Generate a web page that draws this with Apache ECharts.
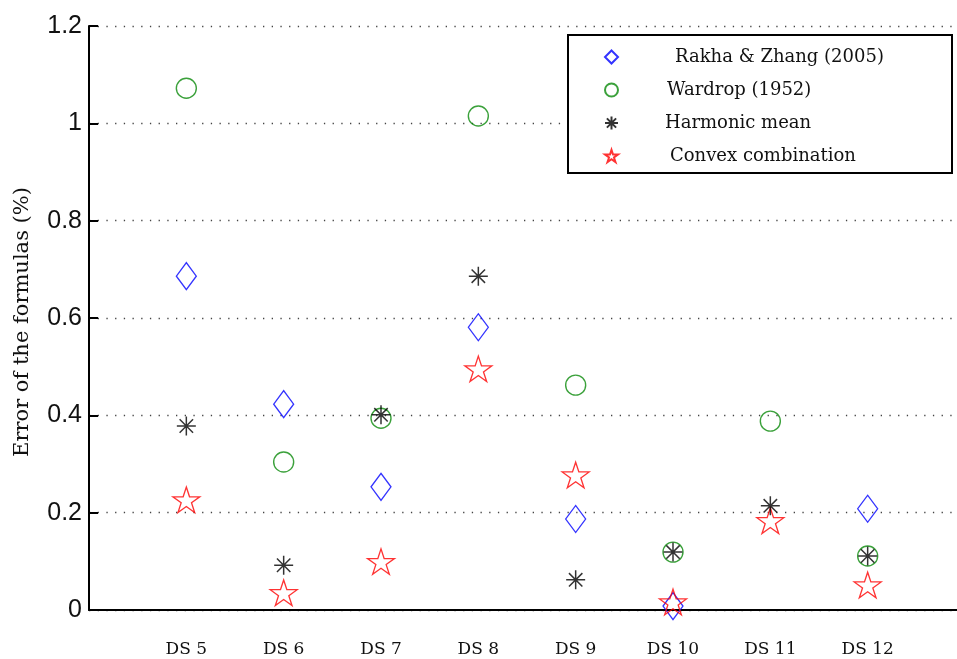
<!DOCTYPE html>
<html>
<head>
<meta charset="utf-8">
<script src="https://cdn.jsdelivr.net/npm/echarts@6/dist/echarts.min.js"></script>
<style>
  html, body { margin: 0; padding: 0; background: #fff; }
  #chart { width: 957px; height: 659px; }
</style>
</head>
<body>
<div id="chart"></div>
<script>
// Data sets on the horizontal axis (placed at positions 1..8)
const dataSets = ['DS 5', 'DS 6', 'DS 7', 'DS 8', 'DS 9', 'DS 10', 'DS 11', 'DS 12'];

// Error of each formula, in percent
const rakhaZhang = [0.686, 0.423, 0.253, 0.581, 0.187, 0.008, null, 0.208];
const wardrop    = [1.072, 0.304, 0.394, 1.015, 0.462, 0.119, 0.388, 0.111];
const harmonic   = [0.378, 0.092, 0.401, 0.686, 0.062, 0.119, 0.214, 0.111];
const convex     = [0.224, 0.033, 0.097, 0.493, 0.275, 0.014, 0.181, 0.049];

const yTicks = [0, 0.2, 0.4, 0.6, 0.8, 1, 1.2];

const seriesNames = ['Rakha & Zhang (2005)', 'Wardrop (1952)', 'Harmonic mean', 'Convex combination'];

const SERIF = '"DejaVu Serif", serif';
const SANS = '"Liberation Sans", Arial, sans-serif';

const STAR = 'path://M0,-100 L22.45,-30.9 L95.1,-30.9 L36.3,11.8 L58.8,80.9 L0,38.2 L-58.8,80.9 L-36.3,11.8 L-95.1,-30.9 L-22.45,-30.9 Z';
const ASTERISK = 'path://M0,-10 L0,10 M-10,0 L10,0 M-7.07,-7.07 L7.07,7.07 M-7.07,7.07 L7.07,-7.07';

function pairs(values) {
  return values.map((v, i) => [i + 1, v]);
}

const chart = echarts.init(document.getElementById('chart'), null, { renderer: 'canvas' });

const option = {
  animation: false,
  backgroundColor: '#ffffff',
  // the plot area runs a little past the right edge of the canvas
  grid: { left: 89, top: 26, bottom: 49, width: 876, containLabel: false, outerBoundsMode: 'none' },
  xAxis: {
    type: 'value',
    min: 0,
    max: 9,
    interval: 1,
    axisLine: { show: true, lineStyle: { color: '#000', width: 2 } },
    axisTick: { show: false },
    splitLine: { show: false },
    axisLabel: {
      margin: 31,
      fontFamily: SERIF,
      fontSize: 17,
      color: '#111',
      formatter: v => (v >= 1 && v <= dataSets.length ? dataSets[v - 1] : '')
    }
  },
  yAxis: {
    type: 'value',
    min: 0,
    max: 1.2,
    interval: 0.2,
    name: 'Error of the formulas (%)',
    nameLocation: 'middle',
    nameRotate: 90,
    nameGap: 56,
    nameTextStyle: { fontFamily: SERIF, fontSize: 21, color: '#111', padding: [0, 8, 0, 0] },
    axisLine: { show: true, lineStyle: { color: '#000', width: 2 } },
    axisTick: { show: true, inside: true, length: 9, lineStyle: { color: '#000', width: 2 } },
    splitLine: { show: true, lineStyle: { color: '#444', width: 1.3, type: [1.3, 7.4] } },
    axisLabel: {
      margin: 7,
      fontFamily: SANS,
      fontSize: 25,
      color: '#111',
      formatter: v => {
        const t = yTicks.find(x => Math.abs(x - v) < 1e-9);
        return t === undefined ? '' : String(t);
      }
    }
  },
  legend: {
    orient: 'vertical',
    left: 604,
    top: 47,
    z: 10,
    itemWidth: 13,
    itemHeight: 13,
    itemGap: 13,
    padding: 0,
    textStyle: { fontFamily: SERIF, fontSize: 18, color: '#111', lineHeight: 20 },
    data: [
      { name: seriesNames[0], textStyle: { padding: [0, 0, 0, 52] } },
      { name: seriesNames[1], textStyle: { padding: [0, 0, 0, 44] } },
      { name: seriesNames[2], textStyle: { padding: [0, 0, 0, 42] } },
      { name: seriesNames[3], textStyle: { padding: [0, 0, 0, 47] } }
    ]
  },
  graphic: [{
    type: 'rect',
    z: 5,
    shape: { x: 568, y: 35, width: 384, height: 138 },
    style: { fill: '#fff', stroke: '#000', lineWidth: 2 }
  }],
  series: [
    {
      name: seriesNames[0],
      type: 'scatter',
      symbol: 'diamond',
      symbolSize: [20, 27],
      itemStyle: { color: 'rgba(0,0,0,0)', borderColor: '#0000ff', borderWidth: 1.3 },
      data: pairs(rakhaZhang),
      z: 2
    },
    {
      name: seriesNames[1],
      type: 'scatter',
      symbol: 'circle',
      symbolSize: 20,
      itemStyle: { color: 'rgba(0,0,0,0)', borderColor: '#0a8a0a', borderWidth: 1.4 },
      data: pairs(wardrop),
      z: 2
    },
    {
      name: seriesNames[2],
      type: 'scatter',
      symbol: ASTERISK,
      symbolSize: 19,
      itemStyle: { color: 'rgba(0,0,0,0)', borderColor: '#000', borderWidth: 1.5 },
      data: pairs(harmonic),
      z: 3
    },
    {
      name: seriesNames[3],
      type: 'scatter',
      symbol: STAR,
      symbolSize: [27, 25.5],
      symbolOffset: [0, -1.2],
      itemStyle: { color: 'rgba(0,0,0,0)', borderColor: '#ff0000', borderWidth: 1.3 },
      data: pairs(convex),
      z: 2
    }
  ]
};

chart.setOption(option);
</script>
</body>
</html>
